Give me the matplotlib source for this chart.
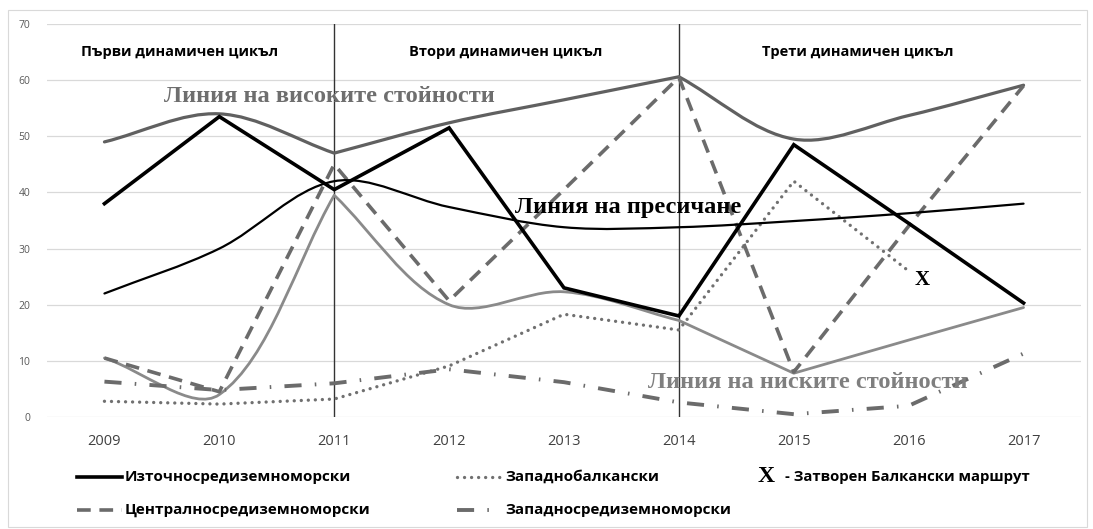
import numpy as np
import matplotlib.pyplot as plt
from matplotlib.path import Path
from matplotlib.patches import PathPatch, Rectangle
from matplotlib.lines import Line2D

# Data
years = ['2009', '2010', '2011', '2012', '2013', '2014', '2015', '2016', '2017']
east_med = [38, 53.5, 40.5, 51.5, 23, 18, 48.5, 34.5, 20.3]
central_med = [10.5, 4.5, 45, 20.7, 40.5, 60.5, 8, 34, 59]
west_balkan = [2.8, 2.3, 3.2, 9.1, 18.3, 15.5, 42, 26, np.nan]
west_med = [6.3, 4.8, 6, 8.5, 6.2, 2.6, 0.5, 2, 11.3]
high_line = [49, 54, 47, 52.4, 56.5, 60.6, 49.5, 53.7, 59.1]
low_line = [10.5, 4, 39.5, 20, 22.3, 17.2, 7.8, 13.7, 19.5]
cross_line = [22, 30, 42, 37.4, 33.8, 33.8, 34.9, 36.3, 38]
# points where the hand-smoothed lines have a sharp corner (index into years)
high_corners = [2, 5]
low_corners = [2, 5, 6]
cross_corners = []

cycles = ['Първи динамичен цикъл', 'Втори динамичен цикъл', 'Трети динамичен цикъл']
cycle_pos = [0.65, 3.49, 6.56]
cycle_bounds = [2, 5]

W, H = 1093, 529
sans = ['Open Sans', 'DejaVu Sans']
serif = ['Liberation Serif', 'DejaVu Serif']


def px(x, y):
    # pixel position (from top-left) -> figure fraction
    return x / W, (H - y) / H


def smooth_path(ax, xs, ys, corners=()):
    # smoothed line through the points, drawn as cubic Bezier segments
    pts = ax.transData.transform(np.column_stack([xs, ys]))
    n = len(pts)
    verts = [pts[0]]
    codes = [Path.MOVETO]
    for i in range(n - 1):
        p1, p2 = pts[i], pts[i + 1]
        p0 = pts[i - 1] if (i > 0 and i not in corners) else p1
        p3 = pts[i + 2] if (i + 2 < n and (i + 1) not in corners) else p2
        d01 = np.hypot(*(p1 - p0))
        d12 = np.hypot(*(p2 - p1))
        d23 = np.hypot(*(p3 - p2))
        c1 = p1 + (p2 - p0) / 3 * (d12 / (d01 + d12))
        c2 = p2 - (p3 - p1) / 3 * (d12 / (d12 + d23))
        verts += [c1, c2, p2]
        codes += [Path.CURVE4] * 3
    verts = ax.transData.inverted().transform(np.array(verts))
    return Path(verts, codes)


fig = plt.figure(figsize=(W / 100, H / 100), dpi=100)
ax = fig.add_axes([47 / W, (H - 417) / H, (1081 - 47) / W, (417 - 24) / H])
x = np.arange(len(years))
ax.set_xlim(-0.5, len(years) - 0.5)
ax.set_ylim(0, 70)

for s in ax.spines.values():
    s.set_visible(False)
ax.set_yticks(range(0, 80, 10))
ax.set_xticks(x)
ax.set_xticklabels(years)
ax.yaxis.grid(True, color='#d9d9d9', lw=0.9)
ax.set_axisbelow(True)
ax.tick_params(axis='y', length=0, pad=12, labelsize=7.5, labelcolor='#595959')
ax.tick_params(axis='x', length=0, pad=12, labelsize=10.5, labelcolor='#404040')
for lab in ax.get_xticklabels() + ax.get_yticklabels():
    lab.set_family(sans)

# cycle separators
for b in cycle_bounds:
    ax.axvline(b, color='#333333', lw=1.0, zorder=1)

# smoothed guide lines
guide = dict(fc='none', capstyle='round', joinstyle='round')
ax.add_patch(PathPatch(smooth_path(ax, x, high_line, high_corners), ec='#606060',
                       lw=2.3, zorder=2, **guide))
ax.add_patch(PathPatch(smooth_path(ax, x, low_line, low_corners), ec='#8a8a8a',
                       lw=2.0, zorder=2, **guide))
ax.add_patch(PathPatch(smooth_path(ax, x, cross_line, cross_corners), ec='black',
                       lw=1.6, zorder=4, **guide))

# route series
st_east = dict(color='black', lw=2.6, solid_joinstyle='miter')
st_central = dict(color='#6b6b6b', lw=2.6, linestyle=(0, (3.8, 2.4)))
st_wb = dict(color='#707070', lw=2.4, linestyle=(0, (0.01, 2.1)), dash_capstyle='round')
st_wm = dict(color='#6b6b6b', lw=2.8, linestyle=(0, (4.4, 3.4, 0.4, 3.4)))

ax.plot(x, central_med, zorder=3, **st_central)
ax.plot(x, west_balkan, zorder=3, **st_wb)
ax.plot(x, west_med, zorder=3, **st_wm)
ax.plot(x, east_med, zorder=5, **st_east)

# labels inside the plot
for name, xp in zip(cycles, cycle_pos):
    ax.text(xp, 65, name, ha='center', va='center', fontsize=10.5,
            fontweight='bold', family=sans, color='black')
ax.text(0.52, 57, 'Линия на високите стойности', ha='left', va='center', fontsize=17.6,
        fontweight='bold', family=serif, color='#6e6e6e', zorder=6)
ax.text(3.57, 37.4, 'Линия на пресичане', ha='left', va='center', fontsize=17.6,
        fontweight='bold', family=serif, color='black', zorder=6)
ax.text(4.73, 6.1, 'Линия на ниските стойности', ha='left', va='center', fontsize=17.6,
        fontweight='bold', family=serif, color='#7f7f7f', zorder=6)
ax.text(7.12, 24.4, 'X', ha='center', va='center', fontsize=15,
        fontweight='bold', family=serif, color='black', zorder=6)

# legend, drawn by hand below the axes
legend_items = [
    ('Източносредиземноморски', st_east, 77, 477),
    ('Централносредиземноморски', st_central, 77, 510),
    ('Западнобалкански', st_wb, 457, 477),
    ('Западносредиземноморски', st_wm, 457, 510),
]
for label, st, lx, ly in legend_items:
    x0, y0 = px(lx, ly)
    x1, _ = px(lx + 45, ly)
    fig.add_artist(Line2D([x0, x1], [y0, y0], transform=fig.transFigure, **st))
    tx, ty = px(lx + 48, ly)
    fig.text(tx, ty, label, ha='left', va='center', fontsize=11,
             fontweight='bold', family=sans)
tx, ty = px(758, 477)
fig.text(tx, ty, 'X', ha='left', va='center', fontsize=17, fontweight='bold', family=serif)
tx, ty = px(785, 477)
fig.text(tx, ty, '- Затворен Балкански маршрут', ha='left', va='center', fontsize=10.7,
         fontweight='bold', family=sans)

# thin frame round the chart
x0, y0 = px(8, 527)
x1, y1 = px(1087, 10)
fig.add_artist(Rectangle((x0, y0), x1 - x0, y1 - y0, transform=fig.transFigure,
                         fill=False, ec='#d9d9d9', lw=0.8))

fig.savefig('out.png', dpi=100)
